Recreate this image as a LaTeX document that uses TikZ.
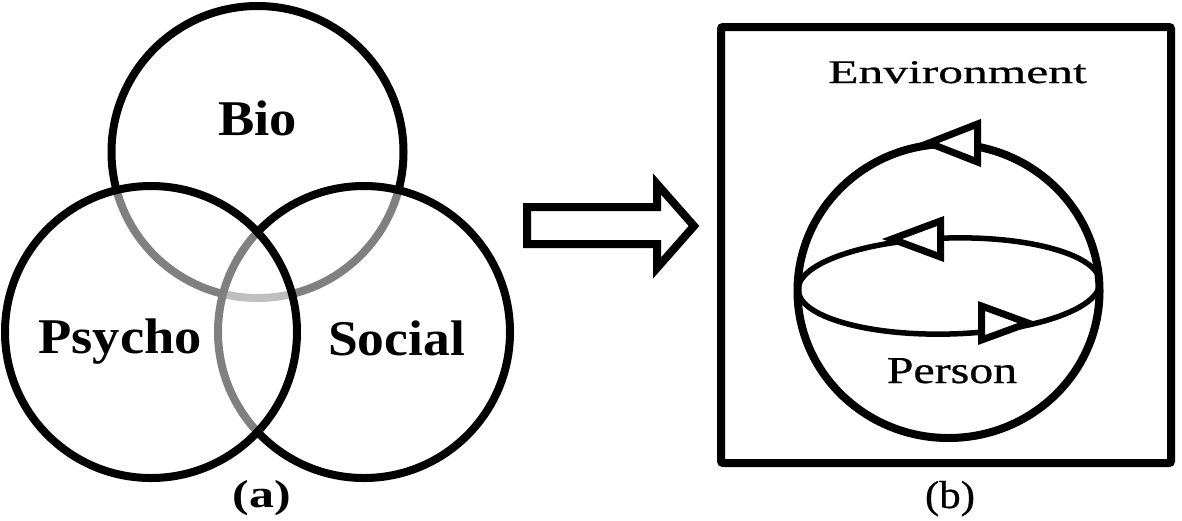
\documentclass[tikz,border=0pt]{standalone}
\usepackage{fontspec}
\setmainfont{Liberation Serif}
\newfontfamily\heavyserif[FakeBold=0.6]{Liberation Serif}
\usetikzlibrary{shadows}
\tikzset{
  venn/.style={draw=black, fill=white, fill opacity=0.5, line width=8pt},
  thick line/.style={draw=black, line width=8pt},
  tri/.style={draw=black, fill=white, line width=7pt, line join=miter},
  softshadow/.style={drop shadow={opacity=0.2, shadow xshift=2pt, shadow yshift=-2.5pt}},
  boldlbl/.style={inner sep=0pt, anchor=base, font=\fontsize{50}{60}\selectfont\bfseries},
  envlbl/.style={inner sep=0pt, anchor=base, font=\fontsize{33}{40}\selectfont\heavyserif},
  perlbl/.style={inner sep=0pt, anchor=base, font=\fontsize{38}{46}\selectfont\heavyserif},
  capbold/.style={inner sep=0pt, anchor=base, font=\fontsize{39}{46}\selectfont\bfseries},
  capreg/.style={inner sep=0pt, anchor=base, font=\fontsize{39}{46}\selectfont\heavyserif}
}
\begin{document}
\begin{tikzpicture}[x=1pt, y=-1pt]
\useasboundingbox (0,0) rectangle (1182,520);
\fill[white] (0,0) rectangle (1182,520);

% (a) Venn diagram
\path[venn] (257.5,152) circle[radius=146];
\path[venn] (364,332) circle[radius=146];
\path[venn] (151,332) circle[radius=146];

\node[boldlbl] (bio) at (257.5,135) {\scalebox{1.09}[1]{Bio}};
\node[boldlbl] (psycho) at (120,353) {\scalebox{1.09}[1]{Psycho}};
\node[boldlbl] (social) at (396.5,355) {\scalebox{1.07}[1]{Social}};
\node[capbold] (capa) at (262,507) {\scalebox{1.28}[1]{(a)}};

% block arrow
\draw[thick line, fill=white, softshadow] (527,207) -- (657,207) -- (657,184) -- (694,226)
  -- (657,268) -- (657,244) -- (527,244) -- cycle;

% (b) Person-environment
\draw[thick line, fill=white, rounded corners=2pt, softshadow] (721,27) rectangle (1171,463);
\node[envlbl] (env) at (957.5,83) {\scalebox{1.5}[1]{Environment}};

\draw[thick line] (948.5,291) ellipse[x radius=151, y radius=147];
\draw[draw=black, line width=5.5pt, rotate around={1.5:(949,286)}] (949,286) ellipse[x radius=151, y radius=48];

\draw[tri] (977.5,124) -- (977.5,162) -- (929,143) -- cycle;
\draw[tri] (940.5,221) -- (940.5,257) -- (892,239) -- cycle;
\draw[tri] (981.5,306) -- (981.5,340) -- (1028,323) -- cycle;

\node[perlbl] (person) at (952,383) {\scalebox{1.26}[1]{Person}};
\node[capreg] (capb) at (950,508) {\scalebox{1.1}[1]{(b)}};
\end{tikzpicture}
\end{document}
